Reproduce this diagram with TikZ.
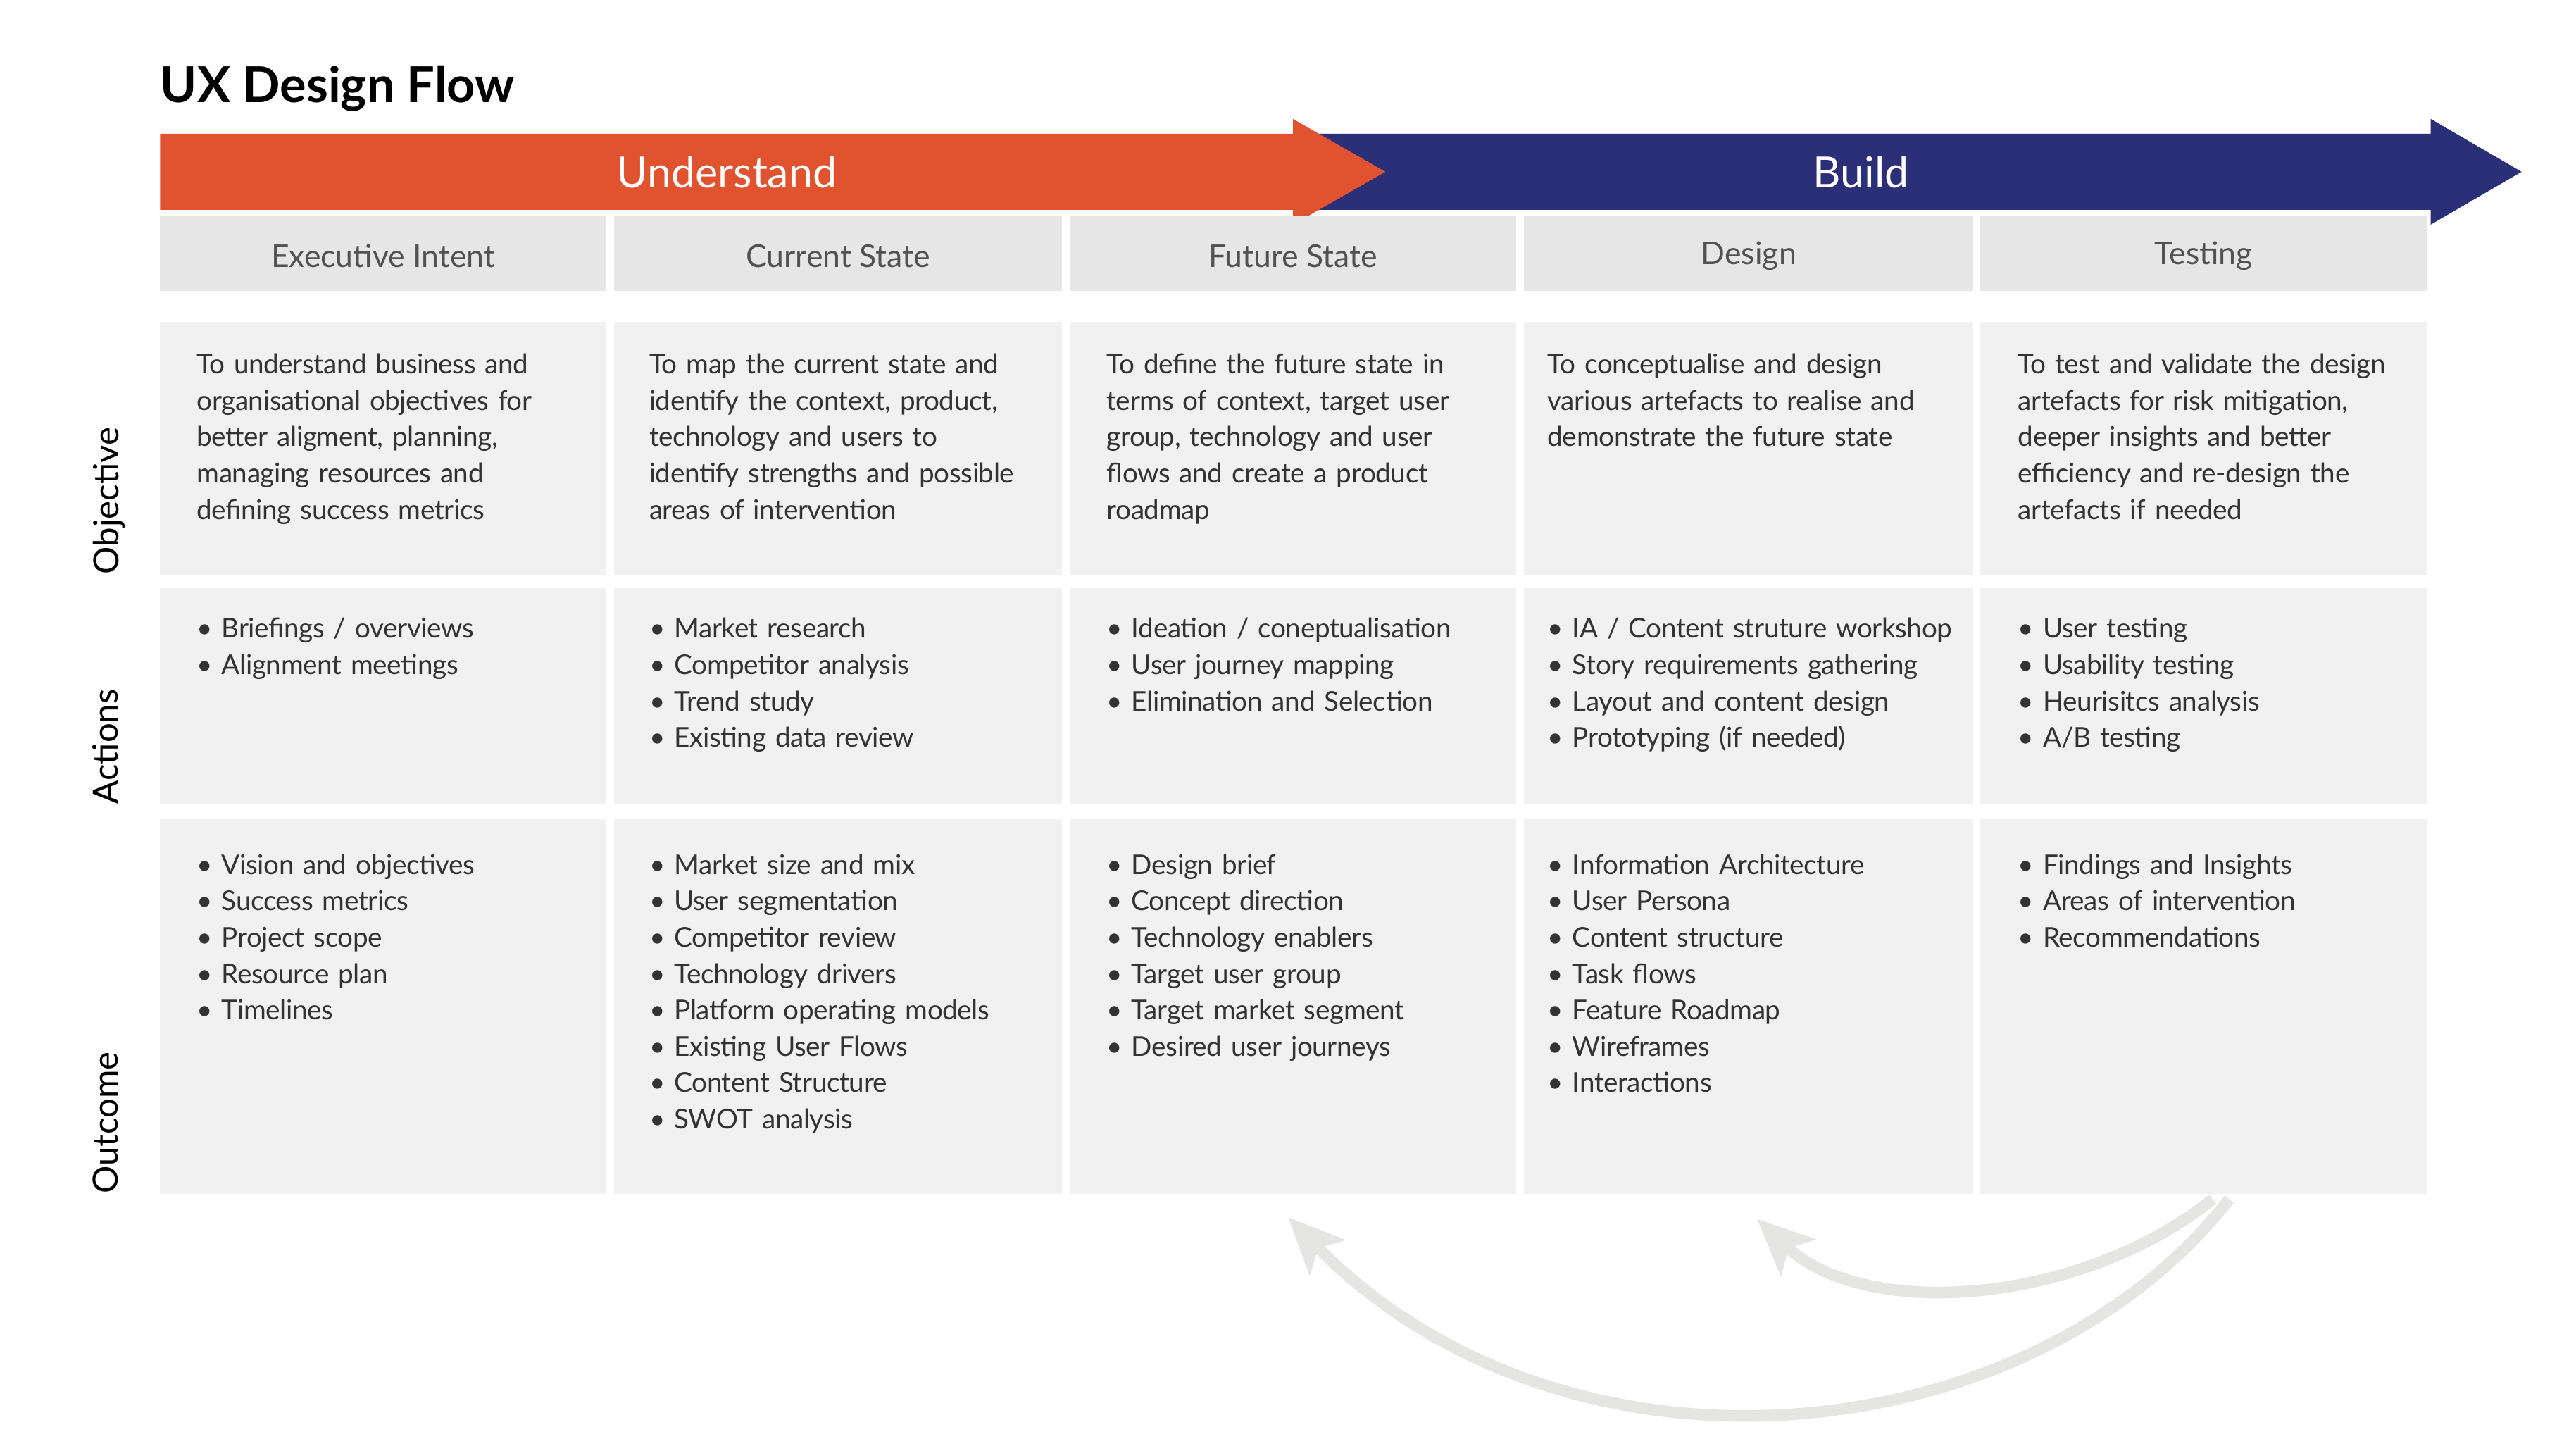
\documentclass[tikz,border=0pt]{standalone}
\usepackage{fontspec}
\setmainfont{Lato}
\usetikzlibrary{arrows.meta}
\definecolor{orng}{HTML}{E0532E}
\definecolor{navy}{HTML}{2B2F78}
\definecolor{hdr}{HTML}{E6E6E6}
\definecolor{cell}{HTML}{F1F1F1}
\definecolor{txt}{HTML}{333333}
\definecolor{curv}{HTML}{E5E5E3}
\tikzset{
 hdrbox/.style={fill=hdr,draw=none,minimum height=45pt,inner sep=0pt,text=txt!85,font=\fontsize{19}{22}\selectfont},
 cellbox/.style={fill=cell,draw=none,inner sep=0pt},
 celltext/.style={anchor=north west,align=left,text width=250pt,inner sep=0pt,text=txt,font=\fontsize{16.5}{22}\selectfont\addfontfeatures{LetterSpace=-1}},
 rowlab/.style={rotate=90,anchor=north west,inner sep=0pt,font=\fontsize{21}{24}\selectfont,text=black},
 curvarrow/.style={draw=curv,line width=7pt,-{Stealth[length=34pt,width=30pt,inset=8pt]}}
}
\begin{document}
\begin{tikzpicture}[x=1pt,y=-1pt]
\useasboundingbox[fill=white] (0,0) rectangle (1560,878.5);
\node[anchor=base west,inner sep=0pt,font=\fontsize{30}{34}\selectfont\bfseries] (title) at (97,62) {UX Design Flow};
% arrows
\fill[navy] (790,81) -- (1472,81) -- (1472,72) -- (1527,104) -- (1472,136) -- (1472,127) -- (790,127) -- cycle;
\fill[orng] (97,81) -- (783,81) -- (783,72) -- (839,104) -- (783,136) -- (783,127) -- (97,127) -- cycle;
\node[text=white,font=\fontsize{26}{30}\selectfont] (und) at (440,104) {Understand};
\node[text=white,font=\fontsize{26}{30}\selectfont] (bld) at (1127,104) {Build};
% columns
\foreach \n/\a/\b/\t in {c1/97/367/Executive Intent,c2/372/643/Current State,c3/648/918/Future State,c4/923/1195/Design,c5/1199/1470/Testing}{
 \fill[hdr] (\a,131) rectangle (\b,176);
 \node[text=txt!85,font=\fontsize{19}{22}\selectfont] (\n h) at ({(\a+\b)/2},155) {\t};
 \fill[cell] (\a,195) rectangle (\b,348);
 \fill[cell] (\a,356) rectangle (\b,487);
 \fill[cell] (\a,496) rectangle (\b,723);
}
\node[rowlab] (lo) at (56,348) {Objective};
\node[rowlab] (la) at (56,487) {Actions};
\node[rowlab] (lu) at (56,723) {Outcome};
% objective texts
\node[celltext] (o1) at (119,214) {To understand business and\\organisational objectives for\\better aligment, planning,\\managing resources and\\defining success metrics};
\node[celltext] (o2) at (393,214) {To map the current state and\\identify the context, product,\\technology and users to\\identify strengths and possible\\areas of intervention};
\node[celltext] (o3) at (670,214) {To define the future state in\\terms of context, target user\\group, technology and user\\flows and create a product\\roadmap};
\node[celltext] (o4) at (937,214) {To conceptualise and design\\various artefacts to realise and\\demonstrate the future state};
\node[celltext] (o5) at (1222,214) {To test and validate the design\\artefacts for risk mitigation,\\deeper insights and better\\efficiency and re-design the\\artefacts if needed};
% actions
\node[celltext] (a1) at (119,374) {• Briefings / overviews\\• Alignment meetings};
\node[celltext] (a2) at (393,374) {• Market research\\• Competitor analysis\\• Trend study\\• Existing data review};
\node[celltext] (a3) at (670,374) {• Ideation / coneptualisation\\• User journey mapping\\• Elimination and Selection};
\node[celltext,text width=260pt] (a4) at (937,374) {• IA / Content struture workshop\\• Story requirements gathering\\• Layout and content design\\• Prototyping (if needed)};
\node[celltext] (a5) at (1222,374) {• User testing\\• Usability testing\\• Heurisitcs analysis\\• A/B testing};
% outcomes
\node[celltext] (u1) at (119,517) {• Vision and objectives\\• Success metrics\\• Project scope\\• Resource plan\\• Timelines};
\node[celltext] (u2) at (393,517) {• Market size and mix\\• User segmentation\\• Competitor review\\• Technology drivers\\• Platform operating models\\• Existing User Flows\\• Content Structure\\• SWOT analysis};
\node[celltext] (u3) at (670,517) {• Design brief\\• Concept direction\\• Technology enablers\\• Target user group\\• Target market segment\\• Desired user journeys};
\node[celltext] (u4) at (937,517) {• Information Architecture\\• User Persona\\• Content structure\\• Task flows\\• Feature Roadmap\\• Wireframes\\• Interactions};
\node[celltext] (u5) at (1222,517) {• Findings and Insights\\• Areas of intervention\\• Recommendations};
% feedback arrows
\coordinate (s1) at (1350,726);
\coordinate (t1) at (780,737);
\coordinate (s2) at (1340,726);
\coordinate (t2) at (1064,738);
\draw[curvarrow] (s1) .. controls (1230,880) and (950,910) .. (t1);
\draw[curvarrow] (s2) .. controls (1260,790) and (1130,800) .. (t2);
\end{tikzpicture}
\end{document}
